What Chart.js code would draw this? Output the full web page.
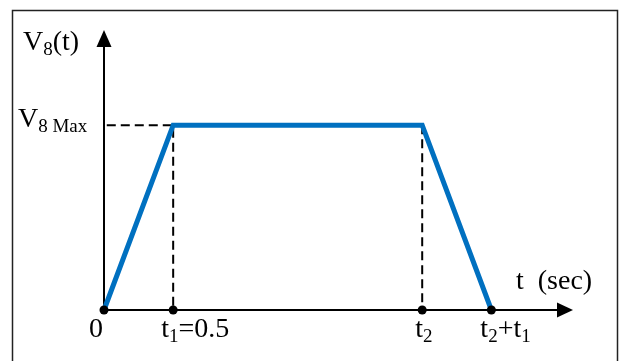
<!DOCTYPE html>
<html>
<head>
<meta charset="utf-8">
<script src="https://cdn.jsdelivr.net/npm/chart.js@4/dist/chart.umd.min.js"></script>
<style>
  html, body { margin: 0; padding: 0; background: #fff; }
  #wrap { width: 622px; height: 361px; }
</style>
</head>
<body>
<div id="wrap"><canvas id="pulse" width="622" height="361"></canvas></div>
<script>
// --- data ---
const times = [0, 0.5, 2.3, 2.8];          // 0, t1, t2, t2+t1
const voltage = [0, 1, 1, 0];              // V8 rises to V8 Max and back
const timeLabels = ['0', 't_{1}=0.5', 't_{2}', 't_{2}+t_{1}'];
const yTitle = 'V_{8}(t)';
const xTitle = 't  (sec)';
const maxLabel = 'V_{8 Max}';
const xMax = 3.39;
const yMax = 1.515;

// --- look ---
const FONT = '"Liberation Serif", "DejaVu Serif", serif';
const SIZE = 28;
const BLUE = '#0070C0';
const labelShift = [-15, -12, -7, -11];    // px offset of each tick label's left edge

// "V_{8}(t)" -> [{t:'V'},{t:'8',sub:true},{t:'(t)'}]
const parseRich = (str) => {
    const parts = [];
    const re = /_\{([^}]*)\}/g;
    let last = 0, m;
    while ((m = re.exec(str)) !== null) {
        if (m.index > last) parts.push({ t: str.slice(last, m.index) });
        parts.push({ t: m[1], sub: true });
        last = re.lastIndex;
    }
    if (last < str.length) parts.push({ t: str.slice(last) });
    return parts;
};

const drawRich = (ctx, str, x, y, size) => {
    const parts = parseRich(str);
    const subSize = Math.round(size * 0.68);
    let cx = x;
    ctx.textBaseline = 'alphabetic';
    ctx.textAlign = 'left';
    ctx.fillStyle = '#000';
    parts.forEach(p => {
        ctx.font = `${p.sub ? subSize : size}px ${FONT}`;
        ctx.fillText(p.t, cx, p.sub ? y + size * 0.18 : y);
        cx += ctx.measureText(p.t).width;
    });
};

const sketchPlugin = {
    id: 'sketch',
    beforeDatasetsDraw(chart) {
        const { ctx, chartArea: a, scales: { x, y } } = chart;
        const x0 = x.getPixelForValue(0), y0 = y.getPixelForValue(0);
        ctx.save();
        // frame
        ctx.strokeStyle = '#222';
        ctx.lineWidth = 1.5;
        ctx.strokeRect(12.5, 10.5, 605, 360);
        // axes
        ctx.strokeStyle = '#000';
        ctx.lineWidth = 2;
        ctx.beginPath();
        ctx.moveTo(x0, y0);
        ctx.lineTo(a.right - 10, y0);
        ctx.moveTo(x0, y0);
        ctx.lineTo(x0, a.top + 10);
        ctx.stroke();
        // arrow heads
        ctx.fillStyle = '#000';
        ctx.beginPath();
        ctx.moveTo(a.right, y0);
        ctx.lineTo(a.right - 16, y0 - 7.5);
        ctx.lineTo(a.right - 16, y0 + 7.5);
        ctx.closePath();
        ctx.fill();
        ctx.beginPath();
        ctx.moveTo(x0, a.top);
        ctx.lineTo(x0 - 7.5, a.top + 17);
        ctx.lineTo(x0 + 7.5, a.top + 17);
        ctx.closePath();
        ctx.fill();
        ctx.restore();
    },
    afterDraw(chart) {
        const { ctx, scales: { x, y } } = chart;
        const y0 = y.getPixelForValue(0);
        ctx.save();
        drawRich(ctx, yTitle, 23, 50, SIZE);
        drawRich(ctx, maxLabel, 18, y.getPixelForValue(1) + 2, SIZE);
        drawRich(ctx, xTitle, 516, y0 - 21, SIZE);
        timeLabels.forEach((lab, i) => {
            drawRich(ctx, lab, x.getPixelForValue(times[i]) + labelShift[i], y0 + 27, SIZE);
        });
        ctx.restore();
    }
};

const points = times.map((t, i) => ({ x: t, y: voltage[i] }));
const axisDots = times.map(t => ({ x: t, y: 0 }));
// dashed guides: V8 Max level to t1, and drop lines at t1 and t2
const guides = [
    { x: 0.02, y: voltage[1] }, { x: times[1], y: voltage[1] }, { x: times[1], y: 0 },
    { x: (times[1] + times[2]) / 2, y: null },
    { x: times[2], y: voltage[2] }, { x: times[2], y: 0 }
];

new Chart(document.getElementById('pulse'), {
    type: 'scatter',
    data: {
        datasets: [
            {
                data: axisDots,
                pointRadius: 4.5,
                pointBackgroundColor: '#000',
                pointBorderWidth: 0,
                showLine: false,
                clip: false,
                order: 0
            },
            {
                data: points,
                showLine: true,
                borderColor: BLUE,
                borderWidth: 5,
                pointRadius: 0,
                borderJoinStyle: 'miter',
                clip: false,
                order: 1
            },
            {
                data: guides,
                showLine: true,
                spanGaps: false,
                borderColor: '#000',
                borderWidth: 2,
                borderDash: [9, 5],
                pointRadius: 0,
                clip: false,
                order: 2
            }
        ]
    },
    options: {
        responsive: false,
        animation: false,
        devicePixelRatio: 1,
        layout: { padding: { left: 104, right: 49, top: 30, bottom: 51 } },
        plugins: { legend: { display: false }, tooltip: { enabled: false } },
        scales: {
            x: { type: 'linear', min: 0, max: xMax, display: false },
            y: { type: 'linear', min: 0, max: yMax, display: false }
        }
    },
    plugins: [sketchPlugin]
});
</script>
</body>
</html>
